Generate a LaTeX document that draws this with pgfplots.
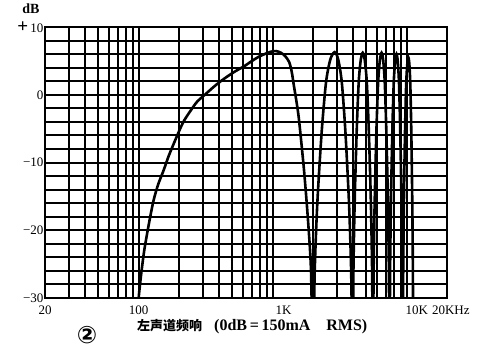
\documentclass[border=0pt]{standalone}
\usepackage{fontspec}
\setmainfont{Liberation Serif}
\newfontfamily\cjk{Noto Sans CJK SC}
\newfontfamily\dejavu{DejaVu Sans}
\usepackage{pgfplots}
\pgfplotsset{compat=1.18}
\begin{document}
\begin{tikzpicture}
\begin{axis}[
  scale only axis, width=402pt, height=271pt,
  xmode=log, xmin=20, xmax=20000, ymin=-30, ymax=10,
  xtick={20,100,1000,10000,20000},
  xticklabels={20,100,\makebox[0pt][l]{\hspace{3pt}1K},\makebox[0pt][l]{\hspace{-1pt}10K},\makebox[0pt][l]{\hspace{-15pt}20KHz}},
  minor xtick={30,40,50,60,70,80,90,200,300,400,500,600,700,800,900,2000,3000,4000,5000,6000,7000,8000,9000},
  ytick={-30,-20,-10,0,10},
  yticklabels={−30,−20,−10,0,{{\fontsize{19}{19}\selectfont\textbf{+}}\,10}},
  minor ytick={-28,-26,...,8},
  grid=both,
  major grid style={black,line width=2pt},
  minor grid style={black,line width=2pt},
  axis line style={line width=2pt},
  major tick length=0pt, minor tick length=0pt,
  ticklabel style={font=\fontsize{13}{15}\selectfont},
  xticklabel style={yshift=-4pt},
  yticklabel style={xshift=2pt},
  log basis x=10,
]
\addplot[black, line width=2.6pt, smooth, tension=0.45] coordinates {
(98,-33) (100,-30) (103,-27.5) (106,-25.4) (110,-23) (115.6,-20.5) (122,-18)
(129.5,-15.5) (140,-13.2) (153.9,-11.1) (167,-9.1) (182.9,-7.2) (200,-5.4)
(217,-3.9) (245,-2.3) (273.8,-1.0) (320,0.2) (364.8,1.2) (410,2.0) (459,2.7)
(530,3.5) (612,4.2) (690,4.9) (770,5.5) (870,6.0) (970,6.35) (1060,6.45)
(1152,6.2) (1240,5.7) (1330,4.8) (1390,3.3) (1441,1.3) (1500,-0.8) (1572,-3.7)
(1713,-11.1) (1835,-18.5) (1932,-25.9) (2000,-40)
(2060,-26) (2154,-16) (2321,-5.5) (2500,1.8) (2692,5.2) (2900,6.3)
(3085,5.2) (3282,1.8) (3491,-5.5) (3713,-16) (3853,-26) (3950,-40)
(4005,-26) (4090,-16) (4235,-5.5) (4385,1.8) (4540,5.1) (4700,6.2)
(4868,5.1) (5042,1.8) (5222,-5.5) (5408,-16) (5522,-26) (5600,-40)
(5667,-26) (5769,-16) (5943,-5.5) (6124,1.8) (6309,5.1) (6500,6.2)
(6680,5.1) (6865,1.8) (7055,-5.5) (7250,-16) (7369,-26) (7450,-40)
(7522,-26) (7631,-16) (7816,-5.5) (8005,1.7) (8200,4.9) (8400,6.0)
(8582,4.9) (8768,1.7) (8958,-5.5) (9152,-16) (9270,-26) (9350,-40)
(9423,-26) (9533,-16) (9719,-5.5) (9909,1.4) (10102,4.5) (10300,5.5)
(10474,4.5) (10650,1.4) (10830,-5.5) (11014,-16) (11125,-26) (11200,-40)
};
\end{axis}
\path (current axis.south west) ++(-45pt,-50pt) rectangle ++(489pt,348pt);
\node[font=\bfseries\fontsize{14}{16}\selectfont] at ([shift={(-14pt,289pt)}]current axis.south west) {dB};
\node[font=\dejavu\bfseries\fontsize{24}{26}\selectfont] at ([shift={(42pt,-37pt)}]current axis.south west) {②};
\node[anchor=west, font=\bfseries\fontsize{16}{18}\selectfont, inner sep=0pt] at ([shift={(92pt,-29pt)}]current axis.south west) {{\cjk\fontsize{13}{15}\selectfont 左声道频响}\ \ \ (0dB\,=\,150mA\ \ \ \ RMS)};
\end{tikzpicture}
\end{document}
